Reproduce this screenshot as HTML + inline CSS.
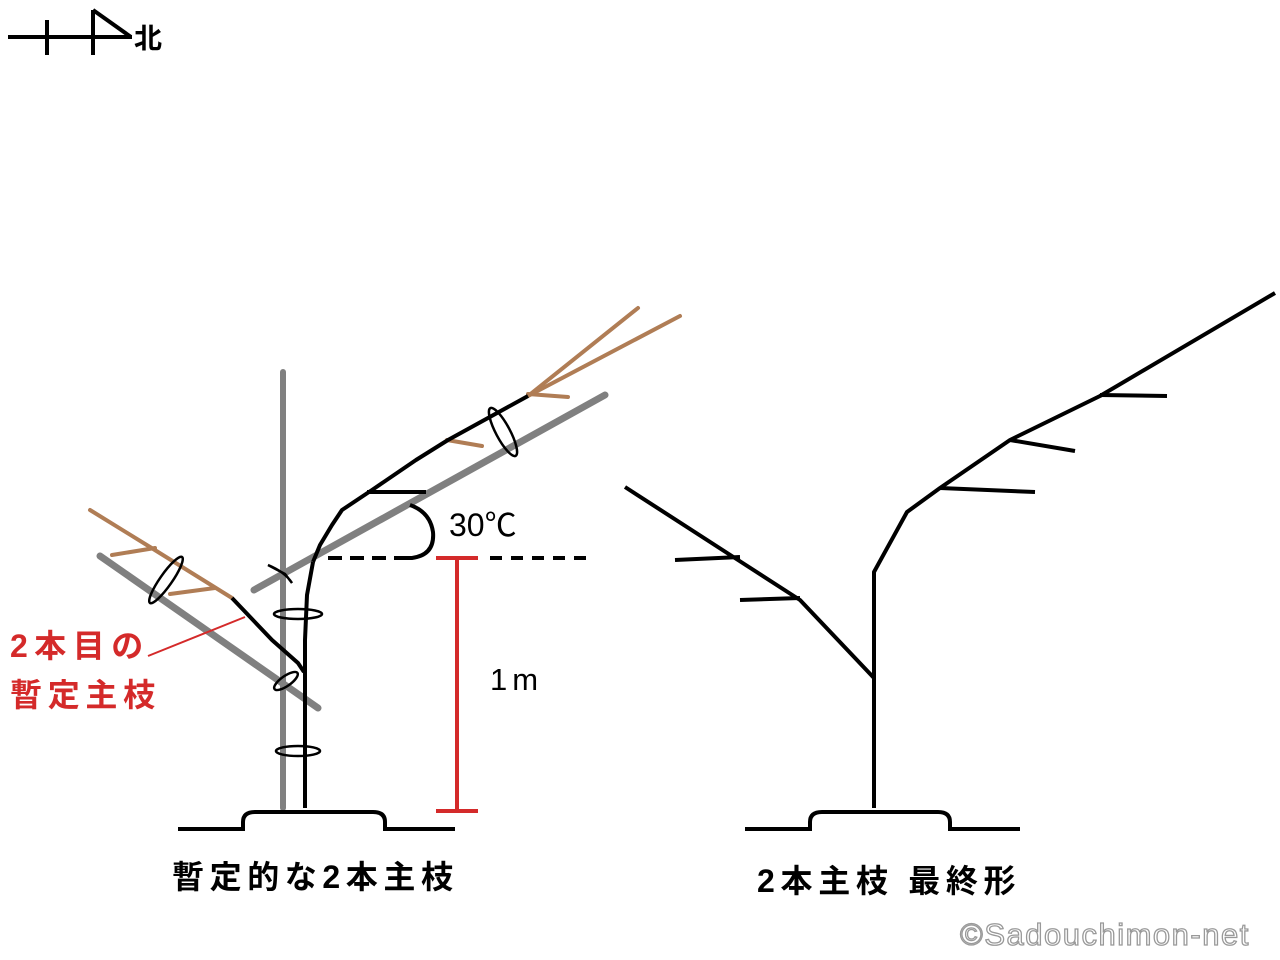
<!DOCTYPE html>
<html><head><meta charset="utf-8"><style>
body{margin:0;background:#fff;}
svg{display:block}
text{font-family:"Liberation Sans","Noto Sans CJK JP",sans-serif;}
</style></head><body>
<svg width="1280" height="960" viewBox="0 0 1280 960" xmlns="http://www.w3.org/2000/svg">
<!-- compass -->
<g stroke="#000" stroke-width="4" fill="none">
<line x1="8" y1="37" x2="132" y2="37"/>
<line x1="47" y1="20" x2="47" y2="55"/>
<line x1="93" y1="55" x2="93" y2="10"/>
<line x1="93" y1="10" x2="131" y2="37"/>
</g>
<text x="134" y="48" font-size="28" font-weight="bold">北</text>

<!-- LEFT TREE -->
<line x1="283" y1="372" x2="283" y2="808" stroke="#808080" stroke-width="6" stroke-linecap="round"/>
<line x1="254" y1="590" x2="605" y2="395" stroke="#808080" stroke-width="7" stroke-linecap="round"/>
<line x1="100" y1="556" x2="318" y2="708" stroke="#808080" stroke-width="7" stroke-linecap="round"/>
<!-- brown -->
<g stroke="#b07d55" stroke-width="4" stroke-linecap="round" fill="none">
<line x1="528" y1="396" x2="638" y2="308"/>
<line x1="528" y1="396" x2="680" y2="316"/>
<line x1="528" y1="394" x2="568" y2="397"/>
<line x1="447" y1="440" x2="482" y2="446"/>
<polyline points="90,510 150,547 232,598"/>
<line x1="112" y1="555" x2="155" y2="548"/>
<line x1="170" y1="594" x2="215" y2="588"/>
</g>
<!-- black branches -->
<g stroke="#000" stroke-width="4" fill="none" stroke-linejoin="round">
<polyline points="305,808 305,640 307,595 313,562"/>
<polyline points="313,562 320,545 332,525 342,510 372,490 416,460 448,440 528,396"/>
<line x1="367" y1="492" x2="426" y2="492"/>
<polyline points="232,598 272,640 298,663 304,672"/>
</g>
<!-- ties -->
<g stroke="#000" stroke-width="2.5" fill="none">
<ellipse cx="503" cy="432" rx="27" ry="7" transform="rotate(62 503 432)"/>
<ellipse cx="166" cy="580" rx="28" ry="6" transform="rotate(-55 166 580)"/>
<path d="M268,565 Q285,572 292,583 L285,574 Z"/>
<ellipse cx="298" cy="614" rx="24" ry="5"/>
<ellipse cx="286" cy="681" rx="14" ry="5" transform="rotate(-35 286 681)"/>
<ellipse cx="298" cy="751" rx="22" ry="5"/>
</g>
<!-- dashed & angle -->
<g stroke="#000" stroke-width="4" fill="none">
<line x1="328" y1="558" x2="415" y2="558" stroke-dasharray="14,8"/>
<line x1="490" y1="558" x2="595" y2="558" stroke-dasharray="12,9"/>
<path d="M400,558 L412,558 Q435,555 433,532 Q430,512 410,505"/>
</g>
<!-- red measure -->
<g stroke="#d42a2a" stroke-width="4">
<line x1="457" y1="558" x2="457" y2="811"/>
<line x1="436" y1="558" x2="478" y2="558"/>
<line x1="436" y1="811" x2="478" y2="811"/>
</g>
<line x1="148" y1="656" x2="245" y2="617" stroke="#d42a2a" stroke-width="2"/>
<text x="449" y="536" font-size="32">30℃</text>
<text x="490" y="690" font-size="31" letter-spacing="5">1m</text>
<text x="10" y="657" font-size="32" fill="#d42a2a" font-weight="bold" letter-spacing="6.5">2本目の</text>
<text x="10" y="706" font-size="32" fill="#d42a2a" font-weight="bold" letter-spacing="5.7">暫定主枝</text>
<!-- grounds -->
<g stroke="#000" stroke-width="4" fill="none">
<path d="M178,829 H243 V822 Q243,812 255,812 H373 Q385,812 385,822 V829 H455"/>
<path d="M745,829 H810 V822 Q810,812 822,812 H938 Q950,812 950,822 V829 H1020"/>
</g>
<text x="172" y="888" font-size="32" font-weight="bold" letter-spacing="5.6">暫定的な2本主枝</text>

<!-- RIGHT TREE -->
<g stroke="#000" stroke-width="4" fill="none" stroke-linejoin="round">
<polyline points="874,808 874,572 907,512 940,488 1010,440 1100,396 1275,293"/>
<line x1="1100" y1="395" x2="1167" y2="396"/>
<line x1="1010" y1="440" x2="1075" y2="451"/>
<line x1="940" y1="488" x2="1035" y2="492"/>
<polyline points="874,678 800,600 738,560 625,487"/>
<line x1="800" y1="598" x2="740" y2="600"/>
<line x1="740" y1="557" x2="675" y2="560"/>
</g>
<text x="757" y="892" font-size="32" font-weight="bold" letter-spacing="5.7">2本主枝 最終形</text>
<text x="960" y="945" font-size="31" fill="#fff" stroke="#999" stroke-width="1.3" letter-spacing="1.5">©Sadouchimon-net</text>
</svg>
</body></html>
